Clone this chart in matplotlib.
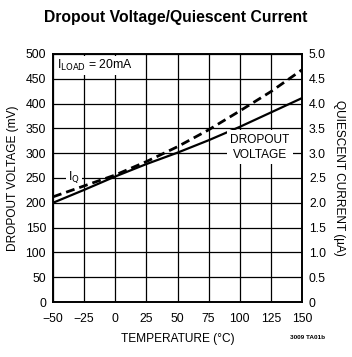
import matplotlib
matplotlib.use("Agg")
import matplotlib.pyplot as plt
from matplotlib import font_manager

# values
temp_c = [-50, -25, 0, 25, 50, 75, 100, 125, 150]
dropout_mv = [200, 226, 253, 278, 301, 326, 353, 382, 411]
iq_ua = [2.12, 2.34, 2.56, 2.83, 3.13, 3.47, 3.85, 4.24, 4.68]

x_ticks = [-50, -25, 0, 25, 50, 75, 100, 125, 150]
x_labels = ["\u221250", "\u221225", "0", "25", "50", "75", "100", "125", "150"]
y_ticks = list(range(0, 501, 50))
y2_ticks = [v / 100 for v in y_ticks]

# use a narrow face if one is there, like the datasheet's condensed Helvetica
names = {f.name for f in font_manager.fontManager.ttflist}
narrow = 'Liberation Sans Narrow' in names
plt.rcParams['font.family'] = ['Liberation Sans Narrow' if narrow else 'Liberation Sans', 'DejaVu Sans']
k = 1.12 if narrow else 1.0

fig = plt.figure(figsize=(3.52, 3.57), dpi=100)
ax = fig.add_axes([0.1506, 0.154, 0.7074, 0.695])

ax.plot(temp_c, dropout_mv, color='black', lw=1.6, zorder=3)
ax2 = ax.twinx()
ax2.plot(temp_c, iq_ua, color='black', lw=2.0, ls=(0, (3.2, 1.8)), zorder=3)

ax.set_xlim(-50, 150)
ax.set_ylim(0, 500)
ax2.set_ylim(0, 5.0)
ax.set_xticks(x_ticks)
ax.set_xticklabels(x_labels)
ax.set_yticks(y_ticks)
ax2.set_yticks(y2_ticks)
ax2.set_yticklabels([f"{v:.1f}" if v else "0" for v in y2_ticks])
ax.grid(True, color='black', lw=0.9)
ax.set_axisbelow(True)

for a in (ax, ax2):
    a.tick_params(length=0, labelsize=8.8 * k, pad=5)
    for s in a.spines.values():
        s.set_linewidth(1.2)
ax.tick_params(axis='x', pad=8)

ax.set_xlabel("TEMPERATURE (\u00b0C)", fontsize=8.6 * k, labelpad=6)
ax.set_ylabel("DROPOUT VOLTAGE (mV)", fontsize=8.6 * k, labelpad=5)
ax2.set_ylabel("QUIESCENT CURRENT (\u00b5A)", fontsize=8.6 * k, rotation=270, labelpad=14)

box = dict(facecolor='white', edgecolor='none', pad=1.5)
ax.text(-47, 476, r"I$_{\mathrm{LOAD}}$ = 20mA", fontsize=8.8 * k, va='center', ha='left', bbox=box, zorder=4)
ax.text(116, 312, "DROPOUT\nVOLTAGE", fontsize=8.6 * k, va='center', ha='center',
        linespacing=1.35, bbox=dict(facecolor='white', edgecolor='none', pad=2.5), zorder=4)
ax.text(-33, 252, r"I$_{\mathrm{Q}}$", fontsize=8.8 * k, va='center', ha='center', bbox=box, zorder=4)

fig.text(0.5, 0.95, "Dropout Voltage/Quiescent Current", ha='center', va='center',
         fontsize=11.3 * k, fontweight='bold')
fig.text(0.875, 0.055, "3009 TA01b", ha='center', va='center', fontsize=4.6, fontweight='bold')

fig.savefig("out.png", dpi=100)
